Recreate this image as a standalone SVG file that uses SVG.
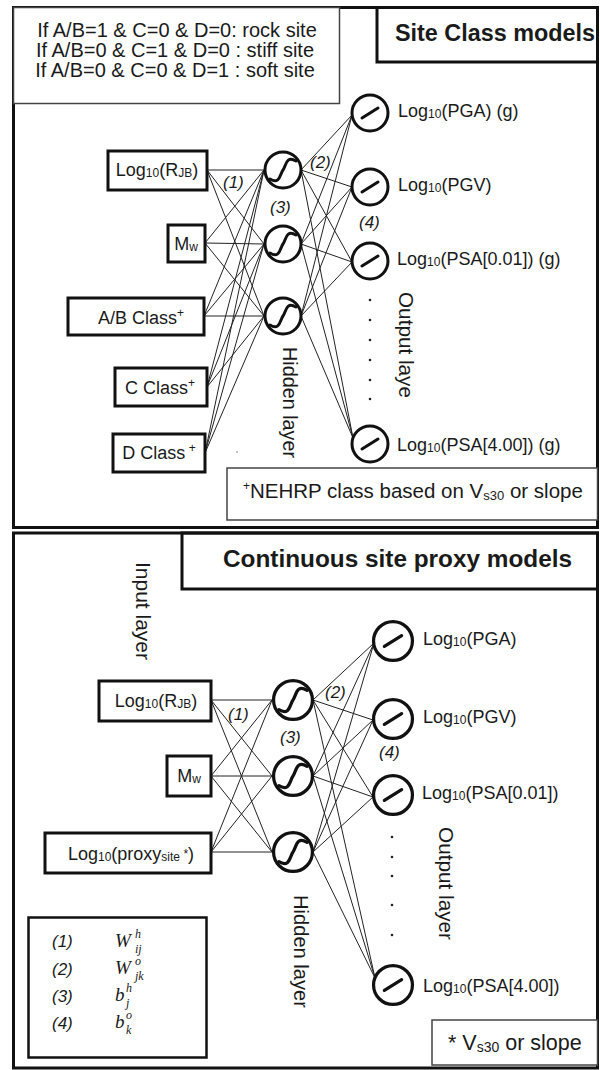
<svg xmlns="http://www.w3.org/2000/svg" width="600" height="1070" viewBox="0 0 600 1070">
<style>
text{font-family:"Liberation Sans",Arial,sans-serif;fill:#1a1a1a}
.panel{fill:none;stroke:#111;stroke-width:3}
.thin{fill:#fff;stroke:#444;stroke-width:1.5}
.box{fill:#fff;stroke:#111;stroke-width:3}
.node{fill:#fff;stroke:#111;stroke-width:3}
.glyph{fill:none;stroke:#111;stroke-width:3;stroke-linecap:round}
.conn line{stroke:#222;stroke-width:1}
.lbl{font-size:18px}
.num{font-size:17px;font-style:italic}
.rot{font-size:20px}
.title{font-size:23px;font-weight:bold}
.math{font-family:"Liberation Serif","Times New Roman",serif;font-style:italic;font-size:19px}
.ms{font-family:"Liberation Serif","Times New Roman",serif;font-style:italic;font-size:12px}
.sm{font-size:12px}
</style>
<defs>
<g id="sig"><circle r="18" class="node"/><path class="glyph" d="M-13,9 C-3,15 -3,4 0,0 C3,-4 3,-15 13,-9"/></g>
<g id="lin"><circle r="18" class="node"/><line class="glyph" x1="-8" y1="5" x2="8" y2="-5"/></g>
</defs>
<rect width="600" height="1070" fill="#fff"/>

<!-- ===== Top panel ===== -->
<g id="panel-top">
<rect class="panel" x="13.5" y="7.5" width="584" height="520"/>
</g>
<g id="conditions">
<rect class="thin" x="13.5" y="7.5" width="326" height="96"/>
<text x="177" y="37" font-size="20" text-anchor="middle">If A/B=1 &amp; C=0 &amp; D=0: rock site</text>
<text x="175" y="57" font-size="20" text-anchor="middle">If A/B=0 &amp; C=1 &amp; D=0 : stiff site</text>
<text x="175" y="77" font-size="20" text-anchor="middle">If A/B=0 &amp; C=0 &amp; D=1 : soft site</text>
</g>
<g id="title-top">
<rect class="panel" x="377" y="7.5" width="220.5" height="54.5"/>
<text class="title" x="395" y="41" textLength="200" lengthAdjust="spacingAndGlyphs">Site Class models</text>
</g>

<g id="connectors-top" class="conn">
<line x1="207" y1="170" x2="264" y2="170"/><line x1="207" y1="170" x2="264" y2="244"/><line x1="207" y1="170" x2="264" y2="316"/>
<line x1="205" y1="243" x2="264" y2="170"/><line x1="205" y1="243" x2="264" y2="244"/><line x1="205" y1="243" x2="264" y2="316"/>
<line x1="204" y1="316" x2="264" y2="170"/><line x1="204" y1="316" x2="264" y2="244"/><line x1="204" y1="316" x2="264" y2="316"/>
<line x1="207" y1="387" x2="264" y2="170"/><line x1="207" y1="387" x2="264" y2="244"/><line x1="207" y1="387" x2="264" y2="316"/>
<line x1="205" y1="453" x2="264" y2="170"/><line x1="205" y1="453" x2="264" y2="244"/><line x1="205" y1="453" x2="264" y2="316"/>
<line x1="301" y1="170" x2="352" y2="115"/><line x1="301" y1="170" x2="352" y2="187"/><line x1="301" y1="170" x2="352" y2="262"/><line x1="301" y1="170" x2="353" y2="438"/>
<line x1="301" y1="244" x2="352" y2="115"/><line x1="301" y1="244" x2="352" y2="187"/><line x1="301" y1="244" x2="352" y2="262"/><line x1="301" y1="244" x2="353" y2="438"/>
<line x1="301" y1="316" x2="352" y2="115"/><line x1="301" y1="316" x2="352" y2="187"/><line x1="301" y1="316" x2="352" y2="262"/><line x1="301" y1="316" x2="353" y2="438"/>
</g>

<g id="in-rjb-top"><rect class="box" x="108" y="151" width="99" height="39"/>
<text class="lbl" x="157" y="176" text-anchor="middle">Log<tspan class="sm" dy="1">10</tspan><tspan dy="-1">(R</tspan><tspan class="sm" dy="1">JB</tspan><tspan dy="-1">)</tspan></text></g>
<g id="in-mw-top"><rect class="box" x="168" y="225" width="37" height="37"/>
<text class="lbl" x="186" y="250" text-anchor="middle">M<tspan class="sm" dy="1">w</tspan></text></g>
<g id="in-ab-top"><rect class="box" x="68" y="298" width="136" height="37"/>
<text class="lbl" x="141" y="324" text-anchor="middle">A/B Class<tspan class="sm" dy="-7">+</tspan></text></g>
<g id="in-c-top"><rect class="box" x="115" y="368" width="92" height="38"/>
<text class="lbl" x="160" y="394" text-anchor="middle">C Class<tspan class="sm" dy="-7">+</tspan></text></g>
<g id="in-d-top"><rect class="box" x="113" y="434" width="92" height="38"/>
<text class="lbl" x="159" y="459" text-anchor="middle">D Class<tspan class="sm" dy="-7"> +</tspan></text></g>

<g id="hid1-top"><use href="#sig" x="283" y="170"/></g>
<g id="hid2-top"><use href="#sig" x="283" y="244"/></g>
<g id="hid3-top"><use href="#sig" x="283" y="316"/></g>

<g id="out-pga-top"><use href="#lin" x="370" y="113"/>
<text class="lbl" x="398" y="117">Log<tspan class="sm" dy="1">10</tspan><tspan dy="-1">(PGA) (g)</tspan></text></g>
<g id="out-pgv-top"><use href="#lin" x="370" y="187"/>
<text class="lbl" x="398" y="191">Log<tspan class="sm" dy="1">10</tspan><tspan dy="-1">(PGV)</tspan></text></g>
<g id="out-psa001-top"><use href="#lin" x="370" y="261"/>
<text class="lbl" x="397" y="265">Log<tspan class="sm" dy="1">10</tspan><tspan dy="-1">(PSA[0.01]) (g)</tspan></text></g>
<g id="out-psa400-top"><use href="#lin" x="370" y="444"/>
<text class="lbl" x="397" y="451">Log<tspan class="sm" dy="1">10</tspan><tspan dy="-1">(PSA[4.00]) (g)</tspan></text></g>

<g id="labels-top">
<text class="num" x="223" y="188">(1)</text>
<text class="num" x="270" y="213">(3)</text>
<text class="num" x="310" y="168">(2)</text>
<text class="num" x="359" y="228">(4)</text>
<text class="rot" transform="translate(283,347) rotate(90)" textLength="111" lengthAdjust="spacingAndGlyphs">Hidden layer</text>
<text class="rot" transform="translate(399,292) rotate(90)" textLength="106" lengthAdjust="spacingAndGlyphs">Output laye</text>
<g fill="#222"><circle cx="370" cy="300" r="1.3"/><circle cx="370" cy="320" r="1.3"/><circle cx="370" cy="340" r="1.3"/><circle cx="370" cy="360" r="1.3"/><circle cx="370" cy="380" r="1.3"/><circle cx="370" cy="399" r="1.3"/></g>
<circle cx="237" cy="452" r="0.8" fill="#777"/>
</g>

<g id="note-top">
<rect class="thin" x="227" y="468" width="370.5" height="52"/>
<text x="243" y="498" font-size="20.5"><tspan font-size="12" dy="-8">+</tspan><tspan dy="8">NEHRP class based on V</tspan><tspan font-size="13" dy="2">s30</tspan><tspan dy="-2"> or slope</tspan></text>
</g>

<!-- ===== Bottom panel ===== -->
<g id="panel-bottom">
<rect class="panel" x="13.5" y="533" width="584" height="535"/>
</g>
<g id="title-bottom">
<rect class="panel" x="182" y="533" width="415.5" height="56"/>
<text class="title" x="223" y="567" textLength="349" lengthAdjust="spacingAndGlyphs">Continuous site proxy models</text>
</g>

<g id="connectors-bottom" class="conn">
<line x1="211" y1="700" x2="272" y2="700"/><line x1="211" y1="700" x2="272" y2="776"/><line x1="211" y1="700" x2="272" y2="852"/>
<line x1="211" y1="776" x2="272" y2="700"/><line x1="211" y1="776" x2="272" y2="776"/><line x1="211" y1="776" x2="272" y2="852"/>
<line x1="211" y1="852" x2="272" y2="700"/><line x1="211" y1="852" x2="272" y2="776"/><line x1="211" y1="852" x2="272" y2="852"/>
<line x1="313" y1="700" x2="374" y2="643"/><line x1="313" y1="700" x2="373" y2="720"/><line x1="313" y1="700" x2="373" y2="797"/><line x1="313" y1="700" x2="375" y2="978"/>
<line x1="313" y1="776" x2="374" y2="643"/><line x1="313" y1="776" x2="373" y2="720"/><line x1="313" y1="776" x2="373" y2="797"/><line x1="313" y1="776" x2="375" y2="978"/>
<line x1="313" y1="852" x2="374" y2="643"/><line x1="313" y1="852" x2="373" y2="720"/><line x1="313" y1="852" x2="373" y2="797"/><line x1="313" y1="852" x2="375" y2="978"/>
</g>

<g id="in-rjb-bot"><rect class="box" x="99" y="681" width="112" height="40"/>
<text class="lbl" x="156" y="707" text-anchor="middle">Log<tspan class="sm" dy="1">10</tspan><tspan dy="-1">(R</tspan><tspan class="sm" dy="1">JB</tspan><tspan dy="-1">)</tspan></text></g>
<g id="in-mw-bot"><rect class="box" x="167" y="756" width="44" height="40"/>
<text class="lbl" x="189" y="782" text-anchor="middle">M<tspan class="sm" dy="1">w</tspan></text></g>
<g id="in-proxy-bot"><rect class="box" x="45" y="833" width="166" height="40"/>
<text class="lbl" x="131" y="860" text-anchor="middle">Log<tspan class="sm" dy="1">10</tspan><tspan dy="-1">(proxy</tspan><tspan class="sm" dy="1">site</tspan><tspan class="sm" dy="-3"> *</tspan><tspan dy="2">)</tspan></text></g>

<g id="hid1-bot"><use href="#sig" transform="translate(293,700) scale(1.08)"/></g>
<g id="hid2-bot"><use href="#sig" transform="translate(293,776) scale(1.08)"/></g>
<g id="hid3-bot"><use href="#sig" transform="translate(293,852) scale(1.08)"/></g>

<g id="out-pga-bot"><use href="#lin" transform="translate(393,641) scale(1.08)"/>
<text class="lbl" x="423" y="645">Log<tspan class="sm" dy="1">10</tspan><tspan dy="-1">(PGA)</tspan></text></g>
<g id="out-pgv-bot"><use href="#lin" transform="translate(393,719) scale(1.08)"/>
<text class="lbl" x="423" y="723">Log<tspan class="sm" dy="1">10</tspan><tspan dy="-1">(PGV)</tspan></text></g>
<g id="out-psa001-bot"><use href="#lin" transform="translate(393,795) scale(1.08)"/>
<text class="lbl" x="422" y="799">Log<tspan class="sm" dy="1">10</tspan><tspan dy="-1">(PSA[0.01])</tspan></text></g>
<g id="out-psa400-bot"><use href="#lin" transform="translate(393,985) scale(1.08)"/>
<text class="lbl" x="423" y="992">Log<tspan class="sm" dy="1">10</tspan><tspan dy="-1">(PSA[4.00])</tspan></text></g>

<g id="labels-bot">
<text class="num" x="228" y="720">(1)</text>
<text class="num" x="280" y="743">(3)</text>
<text class="num" x="325" y="698">(2)</text>
<text class="num" x="379" y="758">(4)</text>
<text class="rot" transform="translate(136,562) rotate(90)" textLength="98" lengthAdjust="spacingAndGlyphs">Input layer</text>
<text class="rot" transform="translate(294,895) rotate(90)" textLength="113" lengthAdjust="spacingAndGlyphs">Hidden layer</text>
<text class="rot" transform="translate(439,827) rotate(90)" textLength="113" lengthAdjust="spacingAndGlyphs">Output layer</text>
<g fill="#222"><circle cx="392" cy="837" r="1.3"/><circle cx="392" cy="857" r="1.3"/><circle cx="392" cy="876" r="1.3"/><circle cx="392" cy="905" r="1.3"/><circle cx="392" cy="935" r="1.3"/></g>
</g>

<g id="legend">
<rect fill="#fff" stroke="#111" stroke-width="2.5" x="28.5" y="917.5" width="178" height="140"/>
<text class="num" x="52" y="947">(1)</text>
<text class="num" x="52" y="975">(2)</text>
<text class="num" x="52" y="1002">(3)</text>
<text class="num" x="52" y="1029">(4)</text>
<text class="math" x="115" y="947">W</text><text class="ms" x="135" y="938">h</text><text class="ms" x="135" y="953">ij</text>
<text class="math" x="115" y="974">W</text><text class="ms" x="135" y="965">o</text><text class="ms" x="135" y="980">jk</text>
<text class="math" x="115" y="1001">b</text><text class="ms" x="126" y="992">h</text><text class="ms" x="126" y="1007">j</text>
<text class="math" x="115" y="1028">b</text><text class="ms" x="126" y="1019">o</text><text class="ms" x="126" y="1034">k</text>
</g>

<g id="note-bottom">
<rect class="thin" x="432" y="1020" width="165.5" height="45"/>
<text x="448" y="1050" font-size="21.5">* V<tspan font-size="14" dy="2">s30</tspan><tspan dy="-2"> or slope</tspan></text>
</g>
</svg>
